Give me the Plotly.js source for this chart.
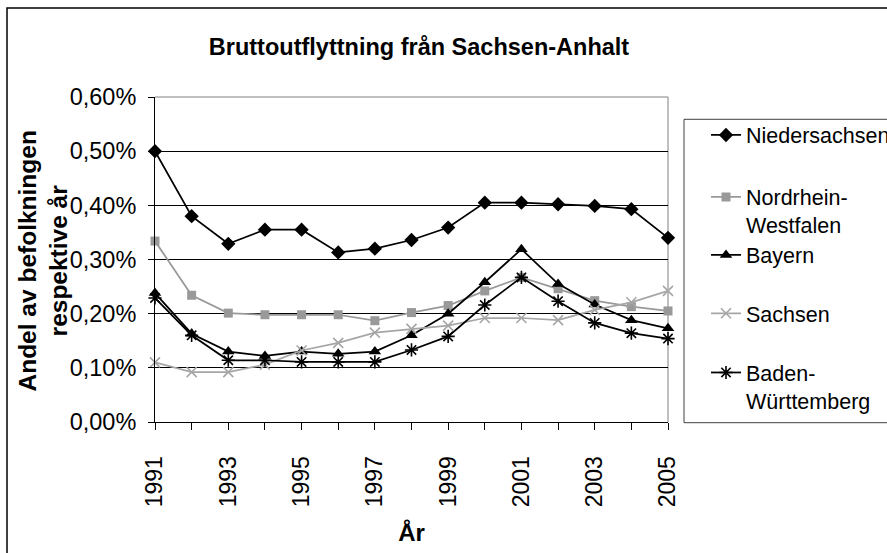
<!DOCTYPE html>
<html><head><meta charset="utf-8">
<script src="https://cdn.plot.ly/plotly-3.0.1.min.js"></script>
<style>html,body{margin:0;padding:0;background:#fff}#chart{width:887px;height:553px}</style>
</head><body><div id="chart"></div>
<script>
// Data (percent of population)
const years = [1991,1992,1993,1994,1995,1996,1997,1998,1999,2000,2001,2002,2003,2004,2005];
const yearLabels = ['1991','','1993','','1995','','1997','','1999','','2001','','2003','','2005'];
const seriesNames = ['Niedersachsen','Nordrhein-<br>Westfalen','Bayern','Sachsen','Baden-<br>Württemberg'];
const niedersachsen = [0.500,0.380,0.329,0.355,0.355,0.313,0.320,0.336,0.359,0.405,0.405,0.402,0.399,0.393,0.340];
const nordrheinWestfalen = [0.334,0.234,0.201,0.198,0.198,0.198,0.187,0.202,0.215,0.242,0.267,0.246,0.224,0.213,0.205];
const bayern = [0.238,0.163,0.130,0.122,0.130,0.126,0.130,0.160,0.200,0.258,0.319,0.255,0.217,0.188,0.173];
const sachsen = [0.110,0.092,0.092,0.106,0.132,0.146,0.165,0.172,0.178,0.192,0.192,0.188,0.207,0.221,0.242];
const badenWuerttemberg = [0.229,0.160,0.114,0.114,0.111,0.111,0.111,0.133,0.158,0.216,0.267,0.223,0.183,0.164,0.154];
const yTickVals = [0,0.1,0.2,0.3,0.4,0.5,0.6];
const yTickLabels = ['0,00%','0,10%','0,20%','0,30%','0,40%','0,50%','0,60%'];
const chartTitle = 'Bruttoutflyttning från Sachsen-Anhalt';
const xTitle = 'År';
const yTitle = 'Andel av befolkningen<br>respektive år';

const FONT = 'Liberation Sans, Arial, sans-serif';
const W = 887, H = 553;
const M = {l:155, r:219, t:97, b:131};
const pw = W - M.l - M.r, ph = H - M.t - M.b;
const px = x => (x - M.l) / pw;
const py = y => (H - M.b - y) / ph;

function tr(y, name, color, symbol, size, legend, lineW) {
  return {
    x: years, y: y, name: name, type: 'scatter', mode: 'lines+markers',
    cliponaxis: false, legend: legend,
    line: {color: color, width: 1.75},
    marker: {symbol: symbol, size: size, color: color, line: {color: color, width: lineW || 0}}
  };
}
const data = [
  tr(niedersachsen, seriesNames[0], '#000000', 'diamond', 11, 'legend'),
  tr(nordrheinWestfalen, seriesNames[1], '#999999', 'square', 9, 'legend2'),
  tr(bayern, seriesNames[2], '#000000', 'triangle-up', 11, 'legend3'),
  tr(sachsen, seriesNames[3], '#a6a6a6', 'x-thin-open', 10, 'legend4', 1.6),
  tr(badenWuerttemberg, seriesNames[4], '#000000', 'asterisk-open', 11, 'legend5', 1.6)
];

const lx = px(706);
function lg(yPix) {
  return {x: lx, y: py(yPix), xref: 'paper', yref: 'paper', xanchor: 'left', yanchor: 'middle',
    valign: 'top', bgcolor: 'rgba(0,0,0,0)', borderwidth: 0,
    font: {family: FONT, size: 21.5, color: '#000'}};
}

const layout = {
  width: W, height: H,
  margin: {l: M.l, r: M.r, t: M.t, b: M.b, autoexpand: false, pad: 0},
  paper_bgcolor: '#fff', plot_bgcolor: '#fff',
  font: {family: FONT, color: '#000'},
  title: {text: chartTitle, font: {family: FONT, size: 23.5, weight: 'bold', color: '#000'},
    x: 419 / W, xref: 'container', xanchor: 'center', y: 1 - 47 / H, yref: 'container', yanchor: 'middle'},
  xaxis: {
    type: 'linear', range: [1991, 2005], tickmode: 'array', tickvals: years, ticktext: yearLabels,
    tickangle: -90, ticks: 'outside', ticklen: 7, tickcolor: '#000', tickwidth: 1,
    ticklabelstandoff: 17,
    showline: true, linecolor: '#000', linewidth: 1, showgrid: false, zeroline: false,
    tickfont: {family: FONT, size: 23, color: '#000'},
    title: {text: xTitle, font: {family: FONT, size: 24, weight: 'bold', color: '#000'}, standoff: 17}
  },
  yaxis: {
    range: [0, 0.6], tickmode: 'array', tickvals: yTickVals, ticktext: yTickLabels,
    ticks: 'outside', ticklen: 6, tickcolor: '#000', tickwidth: 1, ticklabelstandoff: 7,
    showline: true, linecolor: '#000', linewidth: 1,
    showgrid: true, gridcolor: '#000', gridwidth: 1, zeroline: false,
    tickfont: {family: FONT, size: 23.5, color: '#000'}
  },
  annotations: [
    {text: yTitle, xref: 'paper', yref: 'paper', x: px(42.5), y: py(261), xanchor: 'center', yanchor: 'middle',
      textangle: -90, showarrow: false, font: {family: FONT, size: 24.5, weight: 'bold', color: '#000'}}
  ],
  showlegend: true,
  legend: lg(135), legend2: lg(211), legend3: lg(255), legend4: lg(313.3), legend5: lg(386.5),
  shapes: [
    {type: 'rect', xref: 'paper', yref: 'paper', x0: px(7), x1: px(900), y0: py(570), y1: py(8),
      line: {color: '#000', width: 1.5}, fillcolor: 'rgba(0,0,0,0)', layer: 'below'},
    {type: 'line', xref: 'paper', yref: 'paper', x0: 1, x1: 1, y0: 0, y1: 1,
      line: {color: '#808080', width: 1}, layer: 'below'},
    {type: 'line', xref: 'paper', yref: 'paper', x0: 0, x1: 1, y0: 1, y1: 1,
      line: {color: '#808080', width: 1}, layer: 'above'},
    {type: 'rect', xref: 'paper', yref: 'paper', x0: px(684), x1: px(900), y0: py(422.7), y1: py(119.3),
      line: {color: '#404040', width: 1}, fillcolor: 'rgba(0,0,0,0)', layer: 'below'}
  ]
};

Plotly.newPlot('chart', data, layout, {displayModeBar: false, staticPlot: true});
</script>
</body></html>
